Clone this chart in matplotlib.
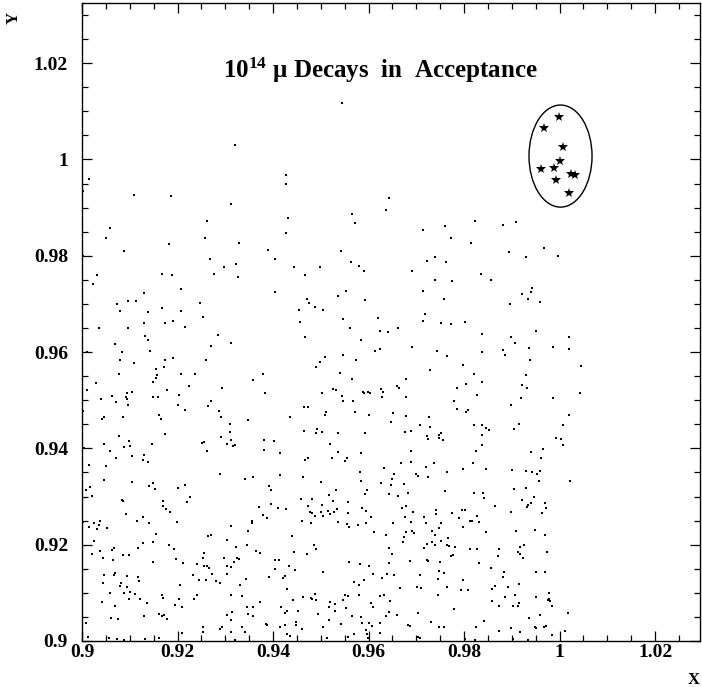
"""
Scatter of muon decay points in acceptance, with the signal stars circled.
"""
import matplotlib
matplotlib.use('Agg')
import matplotlib.pyplot as plt
from matplotlib.patches import Ellipse
from matplotlib.ticker import MultipleLocator, FuncFormatter
import numpy as np

plt.rcParams['font.family'] = ['Liberation Serif', 'DejaVu Serif']
plt.rcParams['font.weight'] = 'bold'
plt.rcParams['mathtext.fontset'] = 'custom'
plt.rcParams['mathtext.rm'] = 'Liberation Serif'
plt.rcParams['mathtext.bf'] = 'Liberation Serif:bold'
plt.rcParams['mathtext.it'] = 'Liberation Serif:italic'

###############################################################################
# data (x, y)
###############################################################################

# upper part, y > 0.975
dots_upper = [
    (0.9015, 0.9959), (0.9002, 0.9934), (0.9109, 0.9927), (0.9186, 0.9924), (0.9262, 0.9873),
    (0.9059, 0.9857), (0.9050, 0.9837), (0.9258, 0.9837), (0.9183, 0.9824), (0.9088, 0.9810),
    (0.9002, 0.9799), (0.9032, 0.9761), (0.9167, 0.9763), (0.9188, 0.9759),
    (0.9320, 1.0031), (0.9428, 0.9968), (0.9427, 0.9950), (0.9312, 0.9907), (0.9432, 0.9879),
    (0.9428, 0.9848), (0.9329, 0.9826), (0.9390, 0.9812), (0.9267, 0.9793), (0.9404, 0.9794),
    (0.9298, 0.9777), (0.9323, 0.9783), (0.9443, 0.9776), (0.9499, 0.9777), (0.9277, 0.9763),
    (0.9468, 0.9759), (0.9326, 0.9756),
    (0.9544, 1.0118), (0.9642, 0.9920), (0.9636, 0.9896), (0.9566, 0.9887), (0.9572, 0.9867),
    (0.9714, 0.9854), (0.9761, 0.9862), (0.9773, 0.9836), (0.9542, 0.9809), (0.9564, 0.9786),
    (0.9581, 0.9779), (0.9591, 0.9768), (0.9692, 0.9768), (0.9722, 0.9789), (0.9740, 0.9797),
    (0.9762, 0.9788), (0.9739, 0.9749), (0.9775, 0.9748),
    (0.9823, 0.9872), (0.9882, 0.9863), (0.9908, 0.9870), (0.9814, 0.9826), (0.9894, 0.9808),
    (0.9930, 0.9798), (0.9968, 0.9817), (0.9996, 0.9799), (0.9835, 0.9763), (0.9856, 0.9749),
]

# middle part, 0.937 < y < 0.975, x < 0.953
dots_mid_left = [
    (0.9023, 0.9742), (0.9207, 0.9730), (0.9130, 0.9722), (0.9074, 0.9699), (0.9096, 0.9706),
    (0.9113, 0.9707), (0.9248, 0.9702), (0.9168, 0.9691), (0.9208, 0.9686), (0.9080, 0.9686),
    (0.9138, 0.9684), (0.9254, 0.9673), (0.9129, 0.9661), (0.9173, 0.9661), (0.9190, 0.9665),
    (0.9035, 0.9651), (0.9096, 0.9650), (0.9216, 0.9652), (0.9131, 0.9634), (0.9138, 0.9625),
    (0.9069, 0.9616), (0.9083, 0.9600), (0.9143, 0.9602), (0.9011, 0.9600), (0.9080, 0.9584),
    (0.9108, 0.9577), (0.9173, 0.9584), (0.9191, 0.9587), (0.9260, 0.9584), (0.9156, 0.9564),
    (0.9171, 0.9569), (0.9078, 0.9555), (0.9158, 0.9553), (0.9154, 0.9547), (0.9207, 0.9555),
    (0.9237, 0.9555), (0.9001, 0.9544), (0.9029, 0.9535), (0.9148, 0.9537), (0.9010, 0.9522),
    (0.9177, 0.9522), (0.9224, 0.9529), (0.9104, 0.9517), (0.9094, 0.9514), (0.9062, 0.9509),
    (0.9093, 0.9507), (0.9094, 0.9502), (0.9039, 0.9502), (0.9071, 0.9497), (0.9149, 0.9506),
    (0.9160, 0.9506), (0.9203, 0.9511), (0.9002, 0.9478), (0.9096, 0.9490), (0.9201, 0.9490),
    (0.9216, 0.9479), (0.9263, 0.9489), (0.9046, 0.9466), (0.9041, 0.9461), (0.9086, 0.9466),
    (0.9161, 0.9469), (0.9166, 0.9462), (0.9173, 0.9429), (0.9078, 0.9426), (0.9047, 0.9409),
    (0.9099, 0.9415), (0.9100, 0.9405), (0.9089, 0.9402), (0.9147, 0.9409), (0.9251, 0.9412),
    (0.9255, 0.9414), (0.9004, 0.9401), (0.9058, 0.9395), (0.9262, 0.9395), (0.9071, 0.9380),
    (0.9104, 0.9384), (0.9129, 0.9387), (0.9127, 0.9376), (0.9139, 0.9371),
    (0.9405, 0.9724), (0.9472, 0.9711), (0.9476, 0.9702), (0.9488, 0.9693), (0.9455, 0.9688),
    (0.9504, 0.9688), (0.9457, 0.9662), (0.9467, 0.9632), (0.9284, 0.9636), (0.9313, 0.9619),
    (0.9270, 0.9613), (0.9508, 0.9589), (0.9498, 0.9579), (0.9490, 0.9569), (0.9378, 0.9554),
    (0.9358, 0.9542), (0.9294, 0.9526), (0.9384, 0.9516), (0.9526, 0.9524), (0.9502, 0.9516),
    (0.9271, 0.9499), (0.9464, 0.9485), (0.9473, 0.9486), (0.9286, 0.9478), (0.9291, 0.9466),
    (0.9347, 0.9458), (0.9436, 0.9466), (0.9511, 0.9476), (0.9508, 0.9469), (0.9310, 0.9451),
    (0.9310, 0.9434), (0.9465, 0.9436), (0.9492, 0.9441), (0.9490, 0.9431), (0.9502, 0.9433),
    (0.9291, 0.9423), (0.9311, 0.9417), (0.9304, 0.9409), (0.9320, 0.9408), (0.9316, 0.9404),
    (0.9382, 0.9417), (0.9403, 0.9415), (0.9381, 0.9397), (0.9415, 0.9391), (0.9519, 0.9409),
    (0.9474, 0.9380), (0.9468, 0.9376), (0.9523, 0.9381),
]

# middle part, 0.937 < y < 0.975, x > 0.953
dots_mid_right = [
    (0.9553, 0.9727), (0.9537, 0.9716), (0.9592, 0.9708), (0.9714, 0.9727), (0.9759, 0.9711),
    (0.9719, 0.9679), (0.9714, 0.9664), (0.9751, 0.9660), (0.9773, 0.9659), (0.9547, 0.9669),
    (0.9620, 0.9671), (0.9562, 0.9649), (0.9623, 0.9644), (0.9640, 0.9641), (0.9661, 0.9650),
    (0.9585, 0.9625), (0.9613, 0.9603), (0.9624, 0.9606), (0.9692, 0.9610), (0.9743, 0.9603),
    (0.9764, 0.9591), (0.9547, 0.9594), (0.9574, 0.9583), (0.9729, 0.9563), (0.9540, 0.9557),
    (0.9565, 0.9544), (0.9678, 0.9544), (0.9659, 0.9530), (0.9664, 0.9526), (0.9626, 0.9524),
    (0.9630, 0.9517), (0.9531, 0.9522), (0.9589, 0.9517), (0.9591, 0.9515), (0.9599, 0.9517),
    (0.9604, 0.9516), (0.9679, 0.9507), (0.9629, 0.9506), (0.9545, 0.9509), (0.9546, 0.9499),
    (0.9568, 0.9499), (0.9786, 0.9526), (0.9779, 0.9498), (0.9785, 0.9482), (0.9572, 0.9475),
    (0.9601, 0.9470), (0.9652, 0.9473), (0.9678, 0.9468), (0.9648, 0.9455), (0.9726, 0.9466),
    (0.9708, 0.9448), (0.9728, 0.9445), (0.9537, 0.9431), (0.9592, 0.9431), (0.9677, 0.9434),
    (0.9688, 0.9437), (0.9722, 0.9425), (0.9725, 0.9419), (0.9747, 0.9427), (0.9752, 0.9432),
    (0.9747, 0.9421), (0.9755, 0.9417), (0.9536, 0.9393), (0.9585, 0.9390), (0.9689, 0.9394),
    (0.9554, 0.9380), (0.9551, 0.9373), (0.9668, 0.9370), (0.9689, 0.9371), (0.9738, 0.9369),
    (0.9943, 0.9733), (0.9922, 0.9721), (0.9941, 0.9725), (0.9933, 0.9711), (0.9897, 0.9700),
    (0.9959, 0.9704), (0.9803, 0.9663), (0.9838, 0.9638), (0.9950, 0.9644), (0.9899, 0.9632),
    (0.9906, 0.9618), (1.0019, 0.9631), (0.9837, 0.9601), (0.9881, 0.9605), (0.9885, 0.9594),
    (0.9936, 0.9609), (0.9987, 0.9611), (1.0020, 0.9607), (0.9939, 0.9584), (0.9797, 0.9574),
    (1.0045, 0.9571), (0.9821, 0.9554), (0.9930, 0.9552), (0.9838, 0.9538), (0.9805, 0.9533),
    (0.9922, 0.9532), (0.9932, 0.9525), (0.9828, 0.9511), (1.0043, 0.9515), (0.9920, 0.9504),
    (0.9987, 0.9504), (0.9899, 0.9490), (0.9809, 0.9479), (0.9805, 0.9475), (1.0019, 0.9469),
    (0.9821, 0.9448), (0.9837, 0.9448), (0.9845, 0.9443), (0.9852, 0.9439), (0.9915, 0.9450),
    (0.9904, 0.9441), (1.0007, 0.9449), (0.9837, 0.9427), (0.9993, 0.9421), (1.0003, 0.9419),
    (0.9837, 0.9408), (1.0007, 0.9408), (0.9826, 0.9394), (0.9940, 0.9392), (0.9966, 0.9398),
    (0.9962, 0.9380), (0.9819, 0.9370),
]

# lower part, y < 0.937, x < 0.953
dots_low_left = [
    (0.9014, 0.9366), (0.9051, 0.9364), (0.9046, 0.9334), (0.9104, 0.9331), (0.9009, 0.9313),
    (0.9016, 0.9319), (0.9141, 0.9322), (0.9148, 0.9328), (0.9152, 0.9315), (0.9202, 0.9317),
    (0.9215, 0.9323), (0.9021, 0.9301), (0.9083, 0.9293), (0.9085, 0.9290), (0.9169, 0.9290),
    (0.9169, 0.9281), (0.9175, 0.9275), (0.9185, 0.9268), (0.9219, 0.9288), (0.9226, 0.9298),
    (0.9093, 0.9263), (0.9127, 0.9258), (0.9116, 0.9250), (0.9140, 0.9245), (0.9198, 0.9247),
    (0.9037, 0.9250), (0.9026, 0.9246), (0.9003, 0.9247), (0.9001, 0.9242), (0.9014, 0.9236),
    (0.9036, 0.9240), (0.9032, 0.9232), (0.9052, 0.9234), (0.9154, 0.9223), (0.9263, 0.9217),
    (0.9026, 0.9207), (0.9127, 0.9204), (0.9148, 0.9206), (0.9067, 0.9193), (0.9063, 0.9189),
    (0.9118, 0.9193), (0.9182, 0.9200), (0.9193, 0.9192), (0.9038, 0.9187), (0.9021, 0.9180),
    (0.9086, 0.9179), (0.9098, 0.9179), (0.9043, 0.9173), (0.9065, 0.9168), (0.9197, 0.9171),
    (0.9148, 0.9163), (0.9212, 0.9161), (0.9240, 0.9160), (0.9254, 0.9173), (0.9256, 0.9183),
    (0.9256, 0.9155), (0.9261, 0.9155), (0.9046, 0.9138), (0.9069, 0.9142), (0.9067, 0.9137),
    (0.9094, 0.9135), (0.9117, 0.9132), (0.9120, 0.9124), (0.9233, 0.9136), (0.9245, 0.9127),
    (0.9260, 0.9126), (0.9045, 0.9121), (0.9081, 0.9121), (0.9080, 0.9115), (0.9094, 0.9113),
    (0.9206, 0.9117), (0.9058, 0.9100), (0.9087, 0.9099), (0.9101, 0.9101), (0.9111, 0.9097),
    (0.9099, 0.9088), (0.9122, 0.9087), (0.9167, 0.9095), (0.9169, 0.9090), (0.9204, 0.9088),
    (0.9240, 0.9096), (0.9235, 0.9088), (0.9042, 0.9081), (0.9069, 0.9073), (0.9136, 0.9078),
    (0.9195, 0.9075), (0.9209, 0.9071), (0.9060, 0.9048), (0.9075, 0.9045), (0.9129, 0.9051),
    (0.9161, 0.9056), (0.9167, 0.9052), (0.9171, 0.9054), (0.9179, 0.9045), (0.9009, 0.9038),
    (0.9254, 0.9030), (0.9254, 0.9019), (0.9210, 0.9016), (0.9001, 0.9013), (0.9012, 0.9009),
    (0.9056, 0.9007), (0.9074, 0.9005), (0.9087, 0.9002), (0.9131, 0.9004), (0.9161, 0.9007),
    (0.9289, 0.9346), (0.9342, 0.9336), (0.9359, 0.9340), (0.9415, 0.9344), (0.9462, 0.9340),
    (0.9500, 0.9330), (0.9391, 0.9322), (0.9395, 0.9314), (0.9518, 0.9303), (0.9525, 0.9291),
    (0.9458, 0.9294), (0.9481, 0.9294), (0.9370, 0.9279), (0.9395, 0.9284), (0.9411, 0.9277),
    (0.9428, 0.9274), (0.9473, 0.9281), (0.9502, 0.9283), (0.9477, 0.9268), (0.9481, 0.9265),
    (0.9487, 0.9260), (0.9500, 0.9268), (0.9504, 0.9259), (0.9515, 0.9270), (0.9519, 0.9263),
    (0.9527, 0.9268), (0.9379, 0.9261), (0.9387, 0.9256), (0.9357, 0.9250), (0.9357, 0.9244),
    (0.9460, 0.9250), (0.9479, 0.9246), (0.9312, 0.9238), (0.9347, 0.9229), (0.9270, 0.9221),
    (0.9439, 0.9218), (0.9303, 0.9210), (0.9345, 0.9199), (0.9323, 0.9195), (0.9365, 0.9187),
    (0.9372, 0.9183), (0.9444, 0.9185), (0.9486, 0.9200), (0.9490, 0.9191), (0.9471, 0.9180),
    (0.9298, 0.9172), (0.9325, 0.9173), (0.9328, 0.9171), (0.9319, 0.9165), (0.9304, 0.9155),
    (0.9312, 0.9153), (0.9404, 0.9169), (0.9412, 0.9169), (0.9433, 0.9155), (0.9447, 0.9148),
    (0.9405, 0.9150), (0.9304, 0.9140), (0.9266, 0.9151), (0.9273, 0.9140), (0.9281, 0.9125),
    (0.9288, 0.9121), (0.9344, 0.9128), (0.9391, 0.9133), (0.9421, 0.9131), (0.9425, 0.9134),
    (0.9504, 0.9144), (0.9331, 0.9117), (0.9430, 0.9108), (0.9311, 0.9096), (0.9336, 0.9093),
    (0.9373, 0.9081), (0.9462, 0.9092), (0.9441, 0.9086), (0.9479, 0.9090), (0.9482, 0.9087),
    (0.9488, 0.9097), (0.9491, 0.9085), (0.9520, 0.9081), (0.9518, 0.9070), (0.9345, 0.9070),
    (0.9358, 0.9070), (0.9416, 0.9071), (0.9430, 0.9063), (0.9426, 0.9059), (0.9453, 0.9063),
    (0.9315, 0.9061), (0.9303, 0.9054), (0.9347, 0.9055), (0.9358, 0.9052), (0.9495, 0.9056),
    (0.9312, 0.9044), (0.9518, 0.9044), (0.9386, 0.9036), (0.9388, 0.9033), (0.9425, 0.9034),
    (0.9449, 0.9039), (0.9448, 0.9034), (0.9415, 0.9029), (0.9334, 0.9030), (0.9293, 0.9029),
    (0.9289, 0.9025), (0.9461, 0.9024), (0.9504, 0.9030), (0.9341, 0.9019), (0.9311, 0.9018),
    (0.9429, 0.9014), (0.9436, 0.9011), (0.9514, 0.9007), (0.9321, 0.9002),
]

# lower part, y < 0.937, x > 0.953
dots_low_right = [
    (0.9632, 0.9360), (0.9721, 0.9361), (0.9765, 0.9351), (0.9583, 0.9351), (0.9700, 0.9347),
    (0.9703, 0.9343), (0.9724, 0.9340), (0.9653, 0.9346), (0.9649, 0.9337), (0.9585, 0.9333),
    (0.9627, 0.9328), (0.9646, 0.9324), (0.9675, 0.9326), (0.9531, 0.9313), (0.9597, 0.9313),
    (0.9592, 0.9306), (0.9643, 0.9305), (0.9661, 0.9301), (0.9683, 0.9307), (0.9761, 0.9311),
    (0.9558, 0.9289), (0.9535, 0.9275), (0.9556, 0.9265), (0.9587, 0.9277), (0.9594, 0.9270),
    (0.9606, 0.9258), (0.9670, 0.9277), (0.9678, 0.9281), (0.9694, 0.9267), (0.9742, 0.9273),
    (0.9742, 0.9263), (0.9717, 0.9258), (0.9676, 0.9257), (0.9775, 0.9265), (0.9789, 0.9256),
    (0.9537, 0.9248), (0.9554, 0.9243), (0.9560, 0.9236), (0.9578, 0.9241), (0.9595, 0.9246),
    (0.9652, 0.9245), (0.9688, 0.9247), (0.9720, 0.9244), (0.9751, 0.9245), (0.9611, 0.9226),
    (0.9636, 0.9220), (0.9678, 0.9227), (0.9692, 0.9228), (0.9696, 0.9225), (0.9733, 0.9229),
    (0.9740, 0.9220), (0.9747, 0.9234), (0.9674, 0.9216), (0.9672, 0.9206), (0.9752, 0.9208),
    (0.9767, 0.9214), (0.9723, 0.9202), (0.9732, 0.9206), (0.9739, 0.9199), (0.9716, 0.9194),
    (0.9764, 0.9199), (0.9769, 0.9198), (0.9782, 0.9195), (0.9643, 0.9193), (0.9650, 0.9180),
    (0.9773, 0.9177), (0.9777, 0.9179), (0.9560, 0.9164), (0.9583, 0.9159), (0.9601, 0.9156),
    (0.9643, 0.9161), (0.9687, 0.9166), (0.9722, 0.9168), (0.9724, 0.9166), (0.9749, 0.9164),
    (0.9747, 0.9146), (0.9757, 0.9142), (0.9609, 0.9140), (0.9639, 0.9139), (0.9654, 0.9138),
    (0.9707, 0.9137), (0.9569, 0.9123), (0.9591, 0.9127), (0.9580, 0.9117), (0.9629, 0.9130),
    (0.9746, 0.9129), (0.9665, 0.9111), (0.9701, 0.9113), (0.9710, 0.9111), (0.9765, 0.9113),
    (0.9550, 0.9095), (0.9556, 0.9093), (0.9581, 0.9096), (0.9624, 0.9093), (0.9633, 0.9095),
    (0.9746, 0.9095), (0.9546, 0.9085), (0.9530, 0.9077), (0.9606, 0.9079), (0.9644, 0.9082),
    (0.9530, 0.9063), (0.9552, 0.9069), (0.9610, 0.9071), (0.9780, 0.9066), (0.9703, 0.9058),
    (0.9643, 0.9060), (0.9566, 0.9052), (0.9585, 0.9049), (0.9637, 0.9051), (0.9660, 0.9054),
    (0.9731, 0.9040), (0.9542, 0.9035), (0.9587, 0.9038), (0.9601, 0.9037), (0.9608, 0.9031),
    (0.9624, 0.9037), (0.9683, 0.9033), (0.9686, 0.9031), (0.9747, 0.9028), (0.9759, 0.9030),
    (0.9569, 0.9015), (0.9595, 0.9022), (0.9597, 0.9015), (0.9624, 0.9017), (0.9558, 0.9008),
    (0.9599, 0.9007), (0.9703, 0.9009), (0.9707, 0.9006),
    (0.9797, 0.9358), (0.9845, 0.9358), (0.9900, 0.9355), (0.9929, 0.9354), (0.9943, 0.9351),
    (0.9952, 0.9346), (0.9958, 0.9353), (0.9957, 0.9333), (1.0022, 0.9332), (0.9904, 0.9316),
    (0.9929, 0.9317), (0.9821, 0.9308), (0.9839, 0.9308), (0.9842, 0.9296), (0.9946, 0.9298),
    (0.9922, 0.9292), (0.9941, 0.9286), (0.9934, 0.9282), (0.9932, 0.9279), (0.9969, 0.9286),
    (0.9971, 0.9277), (0.9865, 0.9281), (0.9795, 0.9271), (0.9802, 0.9272), (0.9899, 0.9268),
    (0.9964, 0.9265), (0.9827, 0.9259), (0.9813, 0.9249), (0.9817, 0.9249), (0.9831, 0.9248),
    (0.9798, 0.9236), (0.9846, 0.9227), (0.9908, 0.9229), (0.9948, 0.9231), (0.9969, 0.9220),
    (0.9812, 0.9190), (0.9827, 0.9192), (0.9874, 0.9191), (0.9918, 0.9196), (0.9926, 0.9199),
    (0.9914, 0.9184), (0.9918, 0.9180), (0.9872, 0.9176), (0.9923, 0.9172), (0.9973, 0.9184),
    (0.9832, 0.9161), (0.9857, 0.9151), (0.9883, 0.9144), (0.9882, 0.9133), (0.9950, 0.9144),
    (0.9969, 0.9144), (0.9797, 0.9126), (0.9793, 0.9106), (0.9809, 0.9105), (0.9865, 0.9114),
    (0.9858, 0.9108), (0.9892, 0.9112), (0.9916, 0.9119), (0.9906, 0.9095), (0.9885, 0.9091),
    (0.9858, 0.9083), (0.9874, 0.9072), (0.9902, 0.9073), (0.9915, 0.9079), (0.9914, 0.9073),
    (0.9950, 0.9092), (0.9978, 0.9099), (0.9976, 0.9085), (0.9980, 0.9084), (0.9978, 0.9088),
    (0.9985, 0.9072), (1.0017, 0.9058), (0.9958, 0.9054), (0.9935, 0.9048), (0.9841, 0.9042),
    (0.9826, 0.9029), (0.9899, 0.9026), (0.9948, 0.9028), (0.9950, 0.9027), (0.9967, 0.9028),
    (0.9971, 0.9031), (0.9874, 0.9020), (0.9918, 0.9019), (0.9984, 0.9012), (1.0012, 0.9020),
    (0.9803, 0.9005), (0.9823, 0.9002), (0.9902, 0.9004), (0.9934, 0.9002),
]

# signal candidates (stars)
star_x = [0.9999, 0.9967, 1.0008, 1.0001, 0.9962, 0.9989, 1.0025, 1.0033, 0.9992, 1.0019]
star_y = [1.0089, 1.0066, 1.0026, 0.9996, 0.9980, 0.9983, 0.9970, 0.9968, 0.9957, 0.9930]

x_lim = (0.9, 1.0294)
y_lim = (0.9, 1.0325)
x_major = [0.9, 0.92, 0.94, 0.96, 0.98, 1.0, 1.02]
y_major = [0.9, 0.92, 0.94, 0.96, 0.98, 1.0, 1.02]

###############################################################################
# plotting
###############################################################################

fig = plt.figure(figsize=(7.02, 6.87), dpi=100)
ax = fig.add_axes([0.1168, 0.0670, 0.8803, 0.9287])

for band in (dots_upper, dots_mid_left, dots_mid_right, dots_low_left, dots_low_right):
    pts = np.array(band)
    ax.plot(pts[:, 0], pts[:, 1], 's', color='black', markersize=1.5,
            markeredgewidth=0, linestyle='none')

ax.plot(star_x, star_y, '*', color='black', markersize=7.5,
        markeredgewidth=0, linestyle='none')

# circle around the signal region
ax.add_patch(Ellipse((1.0002, 1.0007), 0.0132, 0.0212, fill=False,
                     edgecolor='black', linewidth=1.0))

ax.set_xlim(*x_lim)
ax.set_ylim(*y_lim)
ax.set_xticks(x_major)
ax.set_yticks(y_major)
ax.xaxis.set_minor_locator(MultipleLocator(0.005))
ax.yaxis.set_minor_locator(MultipleLocator(0.005))
fmt = FuncFormatter(lambda v, pos: f'{v:g}')
ax.xaxis.set_major_formatter(fmt)
ax.yaxis.set_major_formatter(fmt)

ax.tick_params(which='both', direction='in', top=True, right=True,
               labeltop=False, labelright=False, width=0.9)
ax.tick_params(which='major', length=7.5, labelsize=14)
ax.tick_params(which='minor', length=4)
ax.tick_params(axis='x', which='major', pad=2)
ax.tick_params(axis='y', which='major', pad=10)
for lab in ax.get_xticklabels() + ax.get_yticklabels():
    lab.set_fontweight('bold')
for sp in ax.spines.values():
    sp.set_linewidth(1.0)

ax.text(0.482, 0.895, r'$\mathbf{10^{14}}\ \mathrm{\mu}$ Decays  in  Acceptance',
        transform=ax.transAxes, ha='center', va='center', fontsize=18,
        fontweight='bold')

fig.text(14 / 702, 1 - 18 / 687, 'Y', rotation=90, ha='center', va='center',
         fontsize=12, fontweight='bold')
fig.text(694 / 702, 1 - 680 / 687, 'X', ha='center', va='center',
         fontsize=12, fontweight='bold')

fig.savefig('out.png', dpi=100)
